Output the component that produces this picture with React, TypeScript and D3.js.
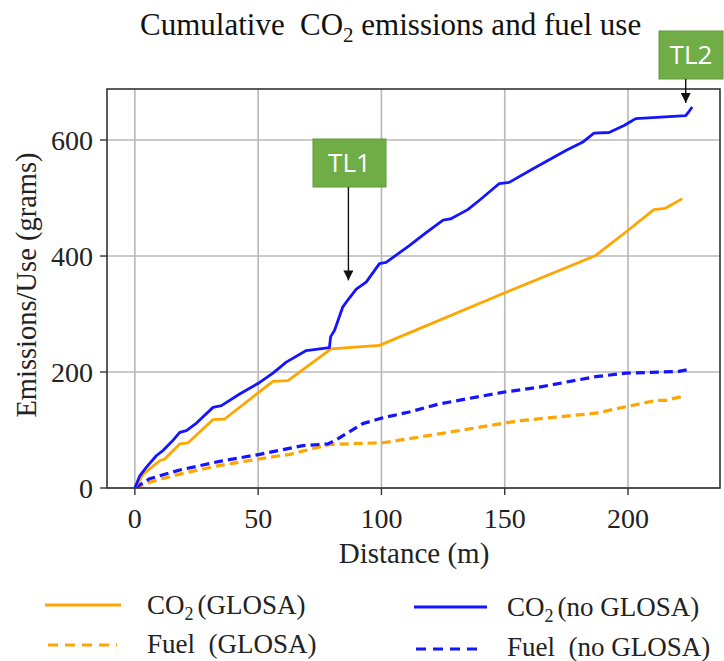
import React from "react";
import * as d3 from "d3";

// ---- data ----
const co2NoGlosaX = [0, 2, 4.7, 8.8, 11.5, 15, 18.2, 20.9, 25, 31.7, 35.1, 42.5, 50.6, 56, 61.4, 69.5, 78.9, 79.4, 81, 84.3, 86.5, 89.8, 93.8, 99.2, 101.9, 111.3, 118, 125, 128, 135, 140, 147.8, 151.8, 161.3, 174.8, 181.5, 186.2, 192.3, 198.4, 203.1, 223.4, 224.5, 226];
const co2NoGlosaY = [0, 21, 36, 56, 65, 80, 96, 99, 112, 139, 142, 162, 182, 198, 217, 237, 242, 261, 272, 312, 325, 343, 355, 387, 389, 418, 440, 462, 464, 480, 497, 525, 527, 550, 582, 596, 612, 613, 625, 637, 642, 648, 657];

const co2GlosaX = [0, 3.4, 10.1, 12.1, 18.2, 21.6, 31.7, 36.4, 56, 62.1, 79.6, 99.2, 149.1, 186.9, 199, 210.5, 215, 222];
const co2GlosaY = [0, 24, 47, 50, 76, 78, 118, 119, 184, 185, 240, 246, 335, 401, 441, 480, 482, 499];

const fuelNoGlosaX = [0, 6, 18.2, 34.4, 50.6, 68.1, 78.3, 81.6, 92.4, 100.5, 111.3, 123.5, 149.1, 164, 186.9, 199, 220.6, 225.4];
const fuelNoGlosaY = [0, 16, 31, 46, 58, 73, 76, 83, 111, 121, 131, 145, 165, 174, 192, 198, 201, 205];

const fuelGlosaX = [0, 6, 18.2, 34.4, 54.7, 62.8, 79, 100.5, 111.3, 155.9, 186.9, 211.2, 215.2, 222];
const fuelGlosaY = [0, 10, 24, 39, 53, 58, 75, 78, 85, 116, 129, 151, 151, 158];

const xTicks = [0, 50, 100, 150, 200];
const yTicks = [0, 200, 400, 600];

const annLabels = ["TL1", "TL2"];
const annX = [86.6, 223.4];
const annTipY = [358, 664];

// ---- layout ----
const W = 724;
const H = 661;
const left = 107;
const right = 720;
const top = 89;
const bottom = 488;

const ORANGE = "#FFA500";
const BLUE = "#1414FF";
const GREEN = "#70AD47";
const SERIF = "'Liberation Serif', 'Times New Roman', serif";
const SANS = "'Open Sans', 'Liberation Sans', sans-serif";
const SP = "\u00a0";

function zip(xs: number[], ys: number[]): [number, number][] {
  return xs.map((x, i) => [x, ys[i]]);
}

export default function App() {
  const x = d3.scaleLinear().domain([-11.3, 237.3]).range([left, right]);
  const y = d3.scaleLinear().domain([0, 688]).range([bottom, top]);
  const line = d3
    .line<[number, number]>()
    .x((d) => x(d[0]))
    .y((d) => y(d[1]));

  const series = [
    { d: zip(fuelGlosaX, fuelGlosaY), color: ORANGE, dash: "9,5" },
    { d: zip(fuelNoGlosaX, fuelNoGlosaY), color: BLUE, dash: "9,5" },
    { d: zip(co2GlosaX, co2GlosaY), color: ORANGE, dash: undefined },
    { d: zip(co2NoGlosaX, co2NoGlosaY), color: BLUE, dash: undefined },
  ];

  const boxW = [73, 64];
  const boxH = 48;
  const boxBottom = [187, 79];
  const boxLeft = [313, 659];

  return (
    <div style={{ position: "fixed", left: 0, top: 0 }}>
      <svg width={W} height={H} style={{ display: "block", background: "#fff" }}>
        {/* title */}
        <text x={140} y={35} fontFamily={SERIF} fontSize={31} fill="#111">
          <tspan>Cumulative</tspan>
          <tspan x={300}>CO</tspan>
          <tspan dy={7} fontSize={21}>2</tspan>
          <tspan dy={-7}>{SP + "emissions and fuel use"}</tspan>
        </text>

        {/* grid */}
        <clipPath id="plotclip">
          <rect x={left} y={top} width={right - left} height={bottom - top} />
        </clipPath>
        {xTicks.map((t) => (
          <line key={"gx" + t} x1={x(t)} x2={x(t)} y1={top} y2={bottom} stroke="#b8b8b8" strokeWidth={1.6} />
        ))}
        {yTicks.map((t) => (
          <line key={"gy" + t} x1={left} x2={right} y1={y(t)} y2={y(t)} stroke="#b8b8b8" strokeWidth={1.6} />
        ))}

        {/* series */}
        <g clipPath="url(#plotclip)">
          {series.map((s, i) => (
            <path
              key={i}
              d={line(s.d) || ""}
              fill="none"
              stroke={s.color}
              strokeWidth={s.dash ? 3.2 : 2.8}
              strokeDasharray={s.dash}
              strokeLinejoin="round"
            />
          ))}
        </g>

        {/* frame */}
        <rect x={left} y={top} width={right - left} height={bottom - top} fill="none" stroke="#333" strokeWidth={1.6} />

        {/* ticks */}
        {xTicks.map((t) => (
          <g key={"tx" + t}>
            <line x1={x(t)} x2={x(t)} y1={bottom} y2={bottom + 7} stroke="#333" strokeWidth={1.4} />
            <text x={x(t)} y={528} textAnchor="middle" fontFamily={SERIF} fontSize={28} fill="#222">
              {t}
            </text>
          </g>
        ))}
        {yTicks.map((t) => (
          <g key={"ty" + t}>
            <line x1={left - 7} x2={left} y1={y(t)} y2={y(t)} stroke="#333" strokeWidth={1.4} />
            <text x={left - 14} y={y(t)} dy="0.35em" textAnchor="end" fontFamily={SERIF} fontSize={28} fill="#222">
              {t}
            </text>
          </g>
        ))}

        {/* axis labels */}
        <text x={414} y={563} textAnchor="middle" fontFamily={SERIF} fontSize={29} fill="#222">
          Distance (m)
        </text>
        <text
          transform={`translate(36, ${285}) rotate(-90)`}
          textAnchor="middle"
          fontFamily={SERIF}
          fontSize={28.5}
          fill="#222"
        >
          Emissions/Use (grams)
        </text>

        {/* annotations */}
        <defs>
          <marker id="arrow" viewBox="0 0 10 10" refX={10} refY={5} markerWidth={10} markerHeight={10} markerUnits="userSpaceOnUse" orient="auto">
            <path d="M0,0 L10,5 L0,10 Z" fill="#111" />
          </marker>
        </defs>
        {annLabels.map((lab, i) => (
          <g key={lab}>
            <rect x={boxLeft[i]} y={boxBottom[i] - boxH} width={boxW[i]} height={boxH} fill={GREEN} stroke="#5f9a3a" strokeWidth={1} />
            <text
              x={boxLeft[i] + boxW[i] / 2}
              y={boxBottom[i] - boxH / 2}
              dy="0.36em"
              textAnchor="middle"
              fontFamily={SANS}
              fontSize={26}
              fill="#fff"
            >
              {lab}
            </text>
            <line
              x1={x(annX[i])}
              x2={x(annX[i])}
              y1={boxBottom[i]}
              y2={y(annTipY[i])}
              stroke="#111"
              strokeWidth={1.4}
              markerEnd="url(#arrow)"
            />
          </g>
        ))}

        {/* legend */}
        <g fontFamily={SERIF} fontSize={27} fill="#222">
          <line x1={45} x2={121} y1={605} y2={605} stroke={ORANGE} strokeWidth={3} />
          <text x={147} y={605} dy="0.33em">
            <tspan>CO</tspan>
            <tspan dy={6} fontSize={18}>2</tspan>
            <tspan dy={-6} dx={4}>{"(GLOSA)"}</tspan>
          </text>
          <line x1={48} x2={117} y1={645} y2={645} stroke={ORANGE} strokeWidth={3} strokeDasharray="10,7" />
          <text x={147} y={644} dy="0.33em">{"Fuel" + SP + SP + "(GLOSA)"}</text>

          <line x1={414} x2={487} y1={607} y2={607} stroke={BLUE} strokeWidth={3} />
          <text x={507} y={607} dy="0.33em">
            <tspan>CO</tspan>
            <tspan dy={6} fontSize={18}>2</tspan>
            <tspan dy={-6} dx={4}>{"(no GLOSA)"}</tspan>
          </text>
          <line x1={416} x2={481} y1={649} y2={649} stroke={BLUE} strokeWidth={3} strokeDasharray="10,7" />
          <text x={507} y={647} dy="0.33em">{"Fuel" + SP + SP + "(no GLOSA)"}</text>
        </g>
      </svg>
    </div>
  );
}
